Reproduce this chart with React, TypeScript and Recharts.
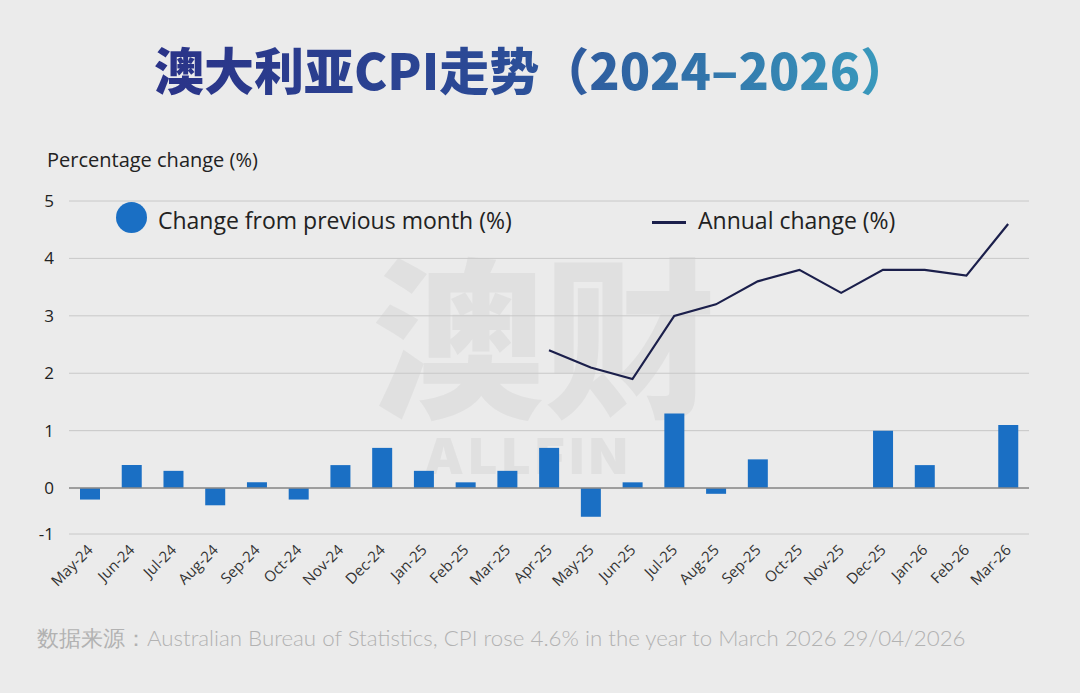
import { ComposedChart, Bar, Line, XAxis, YAxis, CartesianGrid, ReferenceLine } from 'recharts'

// months on the x axis
const MONTHS = [
  'May-24', 'Jun-24', 'Jul-24', 'Aug-24', 'Sep-24', 'Oct-24', 'Nov-24', 'Dec-24',
  'Jan-25', 'Feb-25', 'Mar-25', 'Apr-25', 'May-25', 'Jun-25', 'Jul-25', 'Aug-25',
  'Sep-25', 'Oct-25', 'Nov-25', 'Dec-25', 'Jan-26', 'Feb-26', 'Mar-26',
]

// change from previous month (%)
const MONTHLY = [
  -0.2, 0.4, 0.3, -0.3, 0.1, -0.2, 0.4, 0.7,
  0.3, 0.1, 0.3, 0.7, -0.5, 0.1, 1.3, -0.1,
  0.5, 0, 0, 1.0, 0.4, 0, 1.1,
]

// annual change (%), series starts at Apr-25
const ANNUAL: (number | null)[] = [
  null, null, null, null, null, null, null, null,
  null, null, null, 2.4, 2.1, 1.9, 3.0, 3.2,
  3.6, 3.8, 3.4, 3.8, 3.8, 3.7, 4.6,
]

// the source draws its bottom gridline closer than one full unit under zero
const Y_TICKS = [-0.8, 0, 1, 2, 3, 4, 5]
const Y_LABELS = ['-1', '0', '1', '2', '3', '4', '5']

const BAR_COLOR = '#1a6fc4'
const LINE_COLOR = '#1b1f4b'
const FONT = '"Open Sans", "Noto Sans", sans-serif'

const data = MONTHS.map((m, i) => ({ month: m, monthly: MONTHLY[i], annual: ANNUAL[i] }))

// faint brand watermark behind the plot, drawn as a decorative image
const WATERMARK =
  "<svg xmlns='http://www.w3.org/2000/svg' width='400' height='260'>" +
  "<text x='0' y='164' font-family='Noto Sans CJK SC' font-weight='900' font-size='172' fill='#e0e0e0'>澳财</text>" +
  "<text x='52' y='234' font-family='Inter' font-weight='900' font-size='50' letter-spacing='5' fill='#e0e0e0'>ALLFIN</text>" +
  '</svg>'

function MonthTick({ x, y, payload }: any) {
  return (
    <g transform={`translate(${x + 4},${y + 15})`}>
      <text textAnchor="end" transform="rotate(-45)" fontSize={15} fill="#333" fontFamily={FONT}>
        {payload.value}
      </text>
    </g>
  )
}

export default function App() {
  return (
    <div style={{ position: 'absolute', left: 0, top: 0, width: 1080, height: 693, background: '#ebebeb', overflow: 'hidden' }}>
      <img
        alt=""
        src={'data:image/svg+xml;charset=utf-8,' + encodeURIComponent(WATERMARK)}
        style={{ position: 'absolute', left: 372, top: 240, width: 400, height: 260 }}
      />

      <div
        style={{
          position: 'absolute', left: 154, top: 36, fontSize: 50, fontWeight: 900, lineHeight: 1.3,
          fontFamily: '"Noto Sans CJK SC", sans-serif', whiteSpace: 'nowrap',
          background: 'linear-gradient(90deg, #2a3388 0%, #2b4a96 45%, #3a9fbf 100%)',
          WebkitBackgroundClip: 'text', backgroundClip: 'text', color: 'transparent',
        }}
      >
        澳大利亚CPI走势（2024–2026）
      </div>

      <div style={{ position: 'absolute', left: 47, top: 148, fontSize: 20, color: '#222', fontFamily: FONT, lineHeight: 1.2 }}>
        Percentage change (%)
      </div>

      {/* legend */}
      <div style={{ position: 'absolute', left: 116, top: 202, width: 31, height: 31, borderRadius: '50%', background: BAR_COLOR }} />
      <div style={{ position: 'absolute', left: 158, top: 207, fontSize: 23, color: '#222', fontFamily: FONT, lineHeight: 1.2 }}>
        Change from previous month (%)
      </div>
      <div style={{ position: 'absolute', left: 652, top: 221, width: 34, height: 3, background: LINE_COLOR }} />
      <div style={{ position: 'absolute', left: 698, top: 207, fontSize: 23, color: '#222', fontFamily: FONT, lineHeight: 1.2 }}>
        Annual change (%)
      </div>

      <div style={{ position: 'absolute', left: 0, top: 0 }}>
        <ComposedChart width={1080} height={693} data={data} margin={{ top: 201, right: 51, bottom: 89, left: 19 }}>
          <CartesianGrid vertical={false} stroke="#c8c8c8" />
          <XAxis
            dataKey="month"
            interval={0}
            axisLine={false}
            tickLine={false}
            tickSize={0}
            height={70}
            tick={<MonthTick />}
          />
          <YAxis
            domain={[-0.8, 5]}
            ticks={Y_TICKS}
            width={50}
            axisLine={false}
            tickLine={false}
            tickSize={0}
            tickMargin={15}
            tickFormatter={(v: number) => Y_LABELS[Y_TICKS.indexOf(v)]}
            tick={{ fontSize: 17, fill: '#222', fontFamily: FONT }}
          />
          <ReferenceLine y={0} stroke="#8a8a8a" strokeWidth={1.5} />
          <Bar dataKey="monthly" fill={BAR_COLOR} barSize={20} isAnimationActive={false} />
          <Line
            dataKey="annual"
            stroke={LINE_COLOR}
            strokeWidth={2.2}
            dot={false}
            type="linear"
            connectNulls={false}
            isAnimationActive={false}
          />
        </ComposedChart>
      </div>

      <div style={{ position: 'absolute', left: 37, top: 625, fontSize: 22.3, color: '#b2b2b2', fontFamily: 'Lato, sans-serif', fontWeight: 300, whiteSpace: 'nowrap', lineHeight: 1.2 }}>
        数据来源：Australian Bureau of Statistics, CPI rose 4.6% in the year to March 2026 29/04/2026
      </div>
    </div>
  )
}
